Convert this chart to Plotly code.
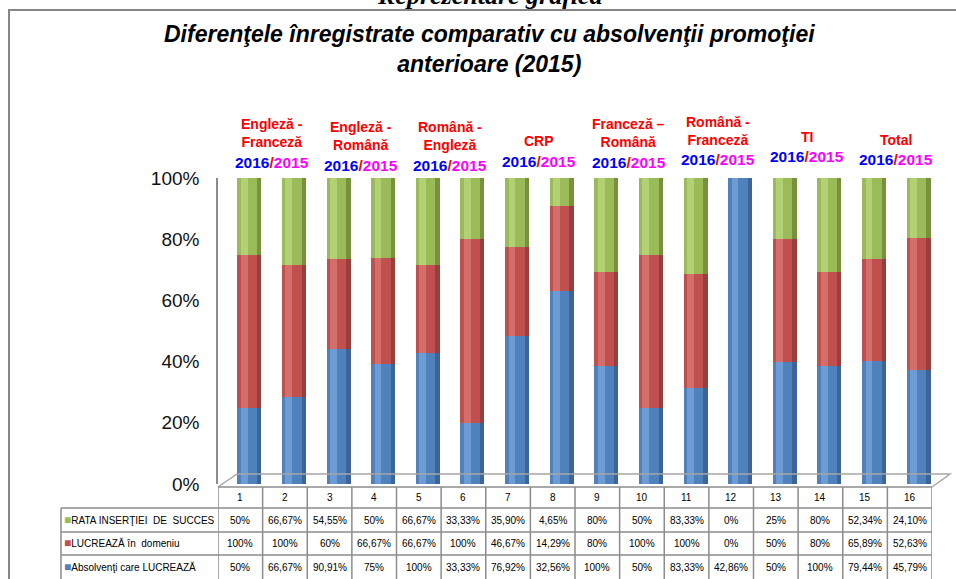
import plotly.graph_objects as go

W, H = 956, 579

# valorile din tabel
categorii = list(range(1, 17))
rata_insertiei = [50, 66.67, 54.55, 50, 66.67, 33.33, 35.90, 4.65, 80, 50, 83.33, 0, 25, 80, 52.34, 24.10]
lucreaza_domeniu = [100, 100, 60, 66.67, 66.67, 100, 46.67, 14.29, 80, 100, 100, 0, 50, 80, 65.89, 52.63]
absolventi_lucreaza = [50, 66.67, 90.91, 75, 100, 33.33, 76.92, 32.56, 100, 50, 83.33, 42.86, 50, 100, 79.44, 45.79]
etichete_tabel_rata = ["50%", "66,67%", "54,55%", "50%", "66,67%", "33,33%", "35,90%", "4,65%",
                       "80%", "50%", "83,33%", "0%", "25%", "80%", "52,34%", "24,10%"]
etichete_tabel_dom = ["100%", "100%", "60%", "66,67%", "66,67%", "100%", "46,67%", "14,29%",
                      "80%", "100%", "100%", "0%", "50%", "80%", "65,89%", "52,63%"]
etichete_tabel_abs = ["50%", "66,67%", "90,91%", "75%", "100%", "33,33%", "76,92%", "32,56%",
                      "100%", "50%", "83,33%", "42,86%", "50%", "100%", "79,44%", "45,79%"]

grupe = ["Engleză -<br>Franceză", "Engleză -<br>Română", "Română -<br>Engleză", "CRP",
         "Franceză –<br>Română", "Română -<br>Franceză", "TI", "Total"]
ani_y = [162, 165, 165, 161, 162, 160, 157, 160]  # centrul randului 2016/2015 (pixeli)

serii = [
    ("Absolvenţi care LUCREAZĂ", absolventi_lucreaza, etichete_tabel_abs, ("#3d6494", "#4f81bd", "#6d9bd3")),
    ("LUCREAZĂ în\u00a0 domeniu", lucreaza_domeniu, etichete_tabel_dom, ("#96403d", "#c0504d", "#d46e6b")),
    ("RATA INSERŢIEI\u00a0 DE\u00a0 SUCCES", rata_insertiei, etichete_tabel_rata, ("#78913f", "#9bbb59", "#b3d174")),
]


def px(x):
    return x / W


def py(y):
    return 1 - y / H


fig = go.Figure()
# subplotul tabelului (fara date)
fig.add_trace(go.Scatter(x=[], y=[], xaxis="x", yaxis="y", showlegend=False))

# cilindri: trei straturi (margine inchisa, culoare de baza, reflexie)
straturi = [("x2", 0.54, None), ("x3", 0.44, -0.27), ("x4", 0.15, -0.19)]
for k, (ax, lat, off) in enumerate(straturi):
    for nume, vals, _, culori in serii:
        fig.add_trace(go.Bar(
            x=categorii, y=vals, name=nume, xaxis=ax, yaxis="y",
            width=[lat] * 16, offset=off,
            marker=dict(color=culori[k], line=dict(width=0)),
            showlegend=False, hoverinfo="skip"
        ))

dom_tab = [px(218), px(932)]
dom_bar = [px(227), px(941)]
xcomun = dict(range=[0.5, 16.5], showgrid=False, zeroline=False, showticklabels=False,
              showline=False, fixedrange=True)

fig.update_layout(
    width=W, height=H,
    margin=dict(l=0, r=0, t=0, b=0, autoexpand=False),
    paper_bgcolor="white", plot_bgcolor="rgba(0,0,0,0)",
    barmode="stack", barnorm="percent",
    font=dict(family="Liberation Sans, Arial, sans-serif", color="#000"),
    xaxis=dict(domain=dom_tab, anchor="y", **xcomun),
    xaxis2=dict(domain=dom_bar, anchor="y", **xcomun),
    xaxis3=dict(anchor="y", overlaying="x2", **xcomun),
    xaxis4=dict(anchor="y", overlaying="x2", **xcomun),
    yaxis=dict(domain=[py(484), py(178)], range=[0, 100], anchor="x",
               tickvals=[0, 20, 40, 60, 80, 100],
               ticktext=["0%", "20%", "40%", "60%", "80%", "100%"],
               tickfont=dict(size=19, color="#111"), ticklabelstandoff=13,
               showgrid=False, zeroline=False, showline=True, automargin=False,
               linecolor="#8c8c8c", linewidth=1.5, fixedrange=True),
)

shapes = []
# chenarul graficului
shapes.append(dict(type="rect", xref="paper", yref="paper", x0=px(9), x1=px(975),
                   y0=py(10), y1=py(600), line=dict(color="#868686", width=2)))
# podeaua 3D
shapes.append(dict(type="path", xref="paper", yref="paper",
                   path="M %f %f L %f %f L %f %f L %f %f" % (px(218), py(487), px(237), py(474),
                                                           px(950), py(474), px(932), py(487)),
                   line=dict(color="#a6a6a6", width=1.5)))
# tabelul de date
for i in range(17):
    shapes.append(dict(type="line", xref="x", yref="paper", x0=i + 0.5, x1=i + 0.5,
                       y0=py(487), y1=py(600), line=dict(color="#8c8c8c", width=1.5)))
shapes.append(dict(type="line", xref="paper", yref="paper", x0=px(218), x1=px(932),
                   y0=py(487), y1=py(487), line=dict(color="#8c8c8c", width=1.5)))
for yl in [508, 532, 555]:
    shapes.append(dict(type="line", xref="paper", yref="paper", x0=px(61), x1=px(932),
                       y0=py(yl), y1=py(yl), line=dict(color="#8c8c8c", width=1.5)))
shapes.append(dict(type="line", xref="paper", yref="paper", x0=px(61), x1=px(61),
                   y0=py(508), y1=py(600), line=dict(color="#8c8c8c", width=1.5)))

ann = []
# titlul taiat de deasupra chenarului
ann.append(dict(text="<b><i>Reprezentare grafică</i></b>", xref="paper", yref="paper",
                x=px(490), y=py(12), xanchor="center", yanchor="bottom", showarrow=False,
                font=dict(family="Liberation Serif, Times New Roman, serif", size=26, color="#000")))
ann.append(dict(text="<b><i>Diferenţele înregistrate comparativ cu absolvenţii promoţiei<br>anterioare (2015)</i></b>",
                xref="paper", yref="paper", x=px(489), y=py(49), xanchor="center", yanchor="middle",
                showarrow=False, font=dict(size=23, color="#000")))

for g, (nume, yc) in enumerate(zip(grupe, ani_y)):
    ann.append(dict(text="<b>%s</b>" % nume, xref="x2", yref="paper", x=2 * g + 1.5,
                    y=py(yc - 10), xanchor="center", yanchor="bottom", showarrow=False,
                    font=dict(size=14, color="#ff0000")))
    ann.append(dict(text="<b><span style='color:#0000ff'>2016</span>/<span style='color:#ff00ff'>2015</span></b>",
                    xref="x2", yref="paper", x=2 * g + 1.5, y=py(yc), xanchor="center",
                    yanchor="middle", showarrow=False, font=dict(size=15.5, color="#ff0000")))

for c in categorii:
    ann.append(dict(text=str(c), xref="x", yref="paper", x=c, y=py(498), showarrow=False,
                    xanchor="center", yanchor="middle", font=dict(size=10)))

randuri = list(reversed(serii))
for r, (nume, vals, etich, culori) in enumerate(randuri):
    yc = [520, 543, 567][r]
    ann.append(dict(text="<span style='color:%s;font-size:12px'>■</span>%s" % (culori[1], nume),
                    xref="paper", yref="paper", x=px(62), y=py(yc), xanchor="left",
                    yanchor="middle", showarrow=False, font=dict(size=10)))
    for c, t in zip(categorii, etich):
        ann.append(dict(text=t, xref="x", yref="paper", x=c, y=py(yc), showarrow=False,
                        xanchor="center", yanchor="middle", font=dict(size=10)))

fig.update_layout(shapes=shapes, annotations=ann)
fig.write_html("out.html", config={"displayModeBar": False},
               post_script="document.body.style.margin='0';")
